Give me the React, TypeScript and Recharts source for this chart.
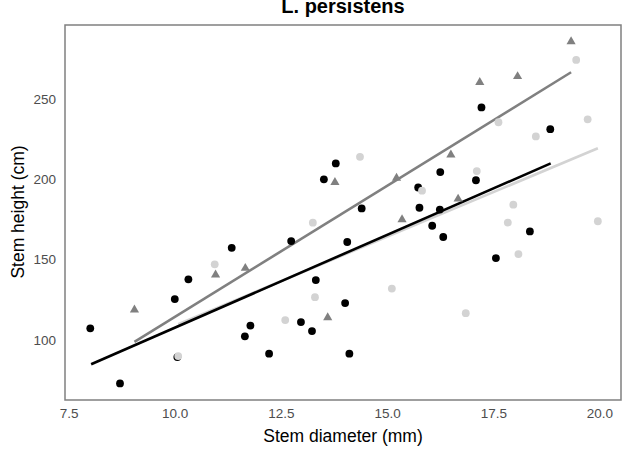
import React from 'react';
import { ComposedChart, Scatter, Line, XAxis, YAxis, ReferenceArea } from 'recharts';

// Axis setup
const xTicks = [7.5, 10, 12.5, 15, 17.5, 20];
const yTicks = [100, 150, 200, 250];
const xDomain = [7.405, 20.495];
const yDomain = [62.7, 296.0];

// Black circles: stem diameter (mm) and height (cm)
const darkDiameter = [8.0, 8.7, 9.99, 10.05, 10.31, 11.33, 11.64, 11.77, 12.21, 12.73, 12.96, 13.22, 13.31, 13.5, 13.78, 14.0, 14.05, 14.1, 14.39, 15.72, 15.75, 16.05, 16.24, 16.23, 16.31, 17.08, 17.21, 17.55, 18.35, 18.83];
const darkHeight = [107.3, 73.0, 125.5, 89.4, 137.8, 157.4, 102.3, 109.0, 91.5, 161.6, 111.2, 105.6, 137.3, 200.0, 209.9, 123.0, 161.0, 91.5, 181.9, 194.9, 182.3, 171.1, 204.5, 181.2, 164.1, 199.4, 244.7, 151.0, 167.6, 231.2];

// Light grey circles
const lightDiameter = [10.07, 10.93, 12.59, 13.24, 13.29, 14.35, 15.1, 15.81, 16.84, 17.1, 17.61, 17.83, 17.96, 18.08, 18.49, 19.44, 19.71, 19.95];
const lightHeight = [90.0, 147.1, 112.4, 173.0, 126.7, 214.0, 132.0, 192.9, 116.7, 205.1, 235.5, 173.1, 184.2, 153.5, 226.7, 274.3, 237.3, 173.9];

// Grey triangles
const triDiameter = [9.04, 10.95, 11.65, 13.59, 13.76, 15.21, 15.34, 16.49, 16.66, 17.17, 18.06, 19.32];
const triHeight = [118.8, 140.6, 144.7, 114.0, 198.1, 200.8, 175.0, 215.2, 187.8, 260.3, 264.0, 285.7];

// Fitted linear trends (end points)
const darkFitX = [8.02, 18.84];
const darkFitY = [84.9, 209.9];
const lightFitX = [10.07, 19.95];
const lightFitY = [109.8, 219.3];
const triFitX = [9.04, 19.32];
const triFitY = [98.9, 266.6];

const zip = (xs: number[], ys: number[]) => xs.map((x, i) => ({ x, y: ys[i] }));

const darkPts = zip(darkDiameter, darkHeight);
const lightPts = zip(lightDiameter, lightHeight);
const triPts = zip(triDiameter, triHeight);
const darkFit = zip(darkFitX, darkFitY);
const lightFit = zip(lightFitX, lightFitY);
const triFit = zip(triFitX, triFitY);

const BLACK = '#000000';
const LIGHT = '#d3d3d3';
const GREY = '#808080';
const FONT = '"Liberation Sans", Arial, Helvetica, sans-serif';

const dot = (color: string) => (p: any) => (
  <circle cx={p.cx} cy={p.cy} r={3.9} fill={color} />
);

const tri = (color: string) => (p: any) => {
  const s = 3.4;
  const { cx, cy } = p;
  const pts = `${cx},${cy - 1.555 * s} ${cx + 1.347 * s},${cy + 0.778 * s} ${cx - 1.347 * s},${cy + 0.778 * s}`;
  return <polygon points={pts} fill={color} />;
};

const tickStyle = { fill: '#4d4d4d', fontSize: 13.5, fontFamily: FONT };

export default function App() {
  return (
    <div style={{ position: 'absolute', left: 0, top: 0, width: 627, height: 450, background: '#fff', fontFamily: FONT, overflow: 'hidden' }}>
      <ComposedChart width={627} height={450} margin={{ top: 25, right: 6, bottom: 0, left: 0 }}>
        <XAxis
          type="number"
          dataKey="x"
          domain={xDomain}
          ticks={xTicks}
          allowDataOverflow
          axisLine={false}
          tickLine={false}
          tickSize={0}
          tickMargin={8}
          height={50}
          tick={tickStyle}
          tickFormatter={(v: number) => v.toFixed(1)}
        />
        <YAxis
          type="number"
          dataKey="y"
          domain={yDomain}
          ticks={yTicks}
          allowDataOverflow
          axisLine={false}
          tickLine={false}
          tickSize={0}
          tickMargin={9}
          width={65}
          tick={tickStyle}
        />
        <ReferenceArea
          x1={xDomain[0]}
          x2={xDomain[1]}
          y1={yDomain[0]}
          y2={yDomain[1]}
          fill="none"
          fillOpacity={0}
          stroke={GREY}
          strokeWidth={1.5}
        />
        <Scatter data={darkPts} dataKey="y" shape={dot(BLACK)} isAnimationActive={false} />
        <Scatter data={lightPts} dataKey="y" shape={dot(LIGHT)} isAnimationActive={false} />
        <Scatter data={triPts} dataKey="y" shape={tri(GREY)} isAnimationActive={false} />
        <Line data={triFit} dataKey="y" type="linear" stroke={GREY} strokeWidth={2.6} dot={false} activeDot={false} isAnimationActive={false} />
        <Line data={lightFit} dataKey="y" type="linear" stroke={LIGHT} strokeWidth={2.6} dot={false} activeDot={false} isAnimationActive={false} />
        <Line data={darkFit} dataKey="y" type="linear" stroke={BLACK} strokeWidth={2.6} dot={false} activeDot={false} isAnimationActive={false} />
      </ComposedChart>
      <div style={{ position: 'absolute', left: 65, width: 556, top: -4, lineHeight: '20px', fontSize: 20, fontWeight: 'bold', textAlign: 'center', color: '#000' }}>
        L. persistens
      </div>
      <div style={{ position: 'absolute', left: 65, width: 556, top: 426, lineHeight: '20px', fontSize: 17.5, textAlign: 'center', color: '#000' }}>
        Stem diameter (mm)
      </div>
      <div style={{ position: 'absolute', left: 18, top: 212, transform: 'translate(-50%, -50%) rotate(-90deg)', whiteSpace: 'nowrap', lineHeight: '20px', fontSize: 17.5, color: '#000' }}>
        Stem height (cm)
      </div>
    </div>
  );
}
